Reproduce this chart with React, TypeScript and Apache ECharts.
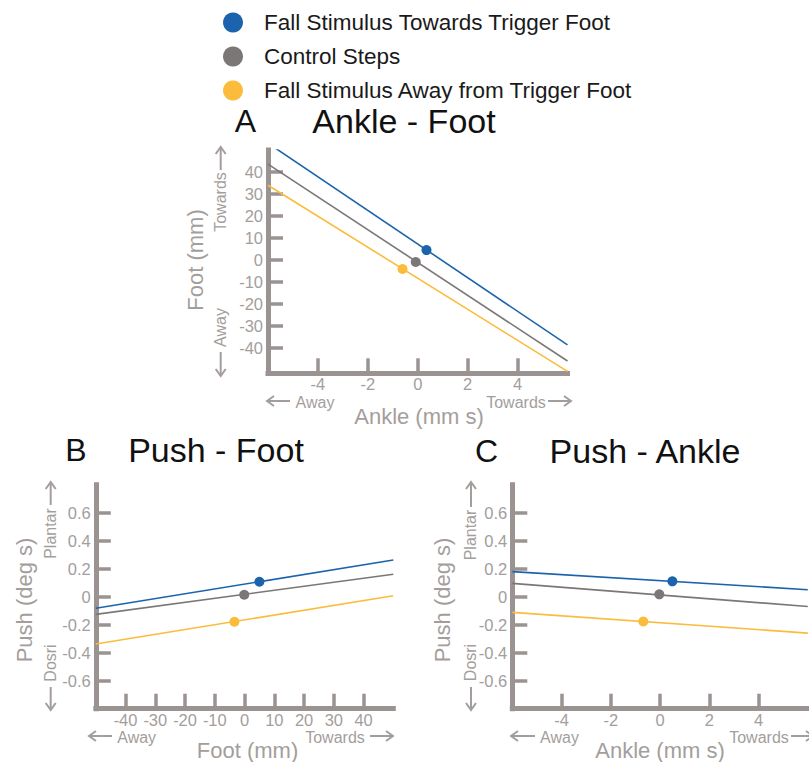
import React, { useEffect, useRef } from "react";
import * as echarts from "echarts";

// ---------- data ----------
const groupNames = [
  "Fall Stimulus Towards Trigger Foot",
  "Control Steps",
  "Fall Stimulus Away from Trigger Foot",
];
const groupColors = ["#1b64ad", "#7b7776", "#fbbc3c"];

// Panel A: Ankle - Foot (x: ankle mm s, y: foot mm)
const ankleFootAnkleRange = [-6, 6];
const ankleFootFootRange = [-51.5, 50];
const ankleFootLineFootAtMin = [53.1, 43.6, 34.0];
const ankleFootLineFootAtMax = [-38.6, -45.9, -50.6];
const ankleFootMeanAnkle = [0.35, -0.08, -0.61];
const ankleFootMeanFoot = [4.5, -0.9, -4.1];
const ankleTickValues = [-4, -2, 0, 2, 4];
const footTickValuesA = [-40, -30, -20, -10, 0, 10, 20, 30, 40];

// Panel B: Push - Foot (x: foot mm, y: push deg s)
const pushFootFootRange = [-50, 50];
const pushFootPushRange = [-0.8, 0.8];
const pushFootLinePushAtMin = [-0.083, -0.126, -0.338];
const pushFootLinePushAtMax = [0.262, 0.16, 0.007];
const pushFootMeanFoot = [5.0, -0.1, -3.4];
const pushFootMeanPush = [0.107, 0.014, -0.179];
const footTickValuesB = [-40, -30, -20, -10, 0, 10, 20, 30, 40];
const pushTickValues = [-0.6, -0.4, -0.2, 0, 0.2, 0.4, 0.6];

// Panel C: Push - Ankle (x: ankle mm s, y: push deg s)
const pushAnkleAnkleRange = [-6, 6];
const pushAnklePushRange = [-0.8, 0.8];
const pushAnkleLinePushAtMin = [0.179, 0.095, -0.112];
const pushAnkleLinePushAtMax = [0.05, -0.07, -0.26];
const pushAnkleMeanAnkle = [0.5, -0.03, -0.68];
const pushAnkleMeanPush = [0.11, 0.017, -0.177];

// ---------- style ----------
const FONT = "'Liberation Sans', Arial, Helvetica, sans-serif";
const AXIS_COLOR = "#9a9391";
const LABEL_COLOR = "#a39e9c";
const TITLE_COLOR = "#111111";

function makeAxis(gridIndex: number, range: number[], ticks: number[], isX: boolean, margin = 5) {
  return {
    gridIndex,
    type: "value",
    min: range[0],
    max: range[1],
    axisLine: {
      show: true,
      onZero: false,
      lineStyle: { color: AXIS_COLOR, width: 5, cap: "square" },
    },
    axisTick: {
      show: true,
      inside: true,
      length: 15,
      customValues: ticks,
      lineStyle: { color: AXIS_COLOR, width: 3.5 },
    },
    axisLabel: {
      customValues: ticks,
      color: LABEL_COLOR,
      fontSize: 16.5,
      fontFamily: FONT,
      lineHeight: 16,
      margin,
    },
    splitLine: { show: false },
  };
}

function arrow(x1: number, y1: number, x2: number, y2: number) {
  const dx = x2 - x1;
  const dy = y2 - y1;
  const len = Math.hypot(dx, dy);
  const ux = dx / len;
  const uy = dy / len;
  const hl = 7;
  const hw = 5;
  const bx = x2 - ux * hl;
  const by = y2 - uy * hl;
  const px = -uy;
  const py = ux;
  return [
    {
      type: "line",
      shape: { x1, y1, x2: x2 - ux * 1, y2: y2 - uy * 1 },
      style: { stroke: LABEL_COLOR, lineWidth: 2 },
    },
    {
      type: "polyline",
      shape: {
        points: [
          [bx + px * hw, by + py * hw],
          [x2, y2],
          [bx - px * hw, by - py * hw],
        ],
      },
      style: { stroke: LABEL_COLOR, lineWidth: 2, fill: "none" },
    },
  ];
}

function text(x: number, y: number, t: string, size: number, color: string, rotate = false) {
  return {
    type: "text",
    x,
    y,
    rotation: rotate ? Math.PI / 2 : 0,
    style: {
      text: t,
      fill: color,
      font: `${size}px ${FONT}`,
      align: "center",
      verticalAlign: "middle",
      lineHeight: Math.round(size * 0.95),
    },
  };
}

function panelSeries(
  gridIdx: number,
  xRange: number[],
  yAtMin: number[],
  yAtMax: number[],
  meanX: number[],
  meanY: number[]
) {
  const out: any[] = [];
  groupNames.forEach((name, i) => {
    out.push({
      type: "line",
      name,
      xAxisIndex: gridIdx,
      yAxisIndex: gridIdx,
      data: [
        [xRange[0], yAtMin[i]],
        [xRange[1], yAtMax[i]],
      ],
      showSymbol: false,
      symbol: "none",
      clip: true,
      lineStyle: { color: groupColors[i], width: 1.6 },
      itemStyle: { color: groupColors[i] },
      z: 2,
      silent: true,
    });
  });
  groupNames.forEach((name, i) => {
    out.push({
      type: "scatter",
      name,
      xAxisIndex: gridIdx,
      yAxisIndex: gridIdx,
      data: [[meanX[i], meanY[i]]],
      symbol: "circle",
      symbolSize: 10,
      itemStyle: { color: groupColors[i], opacity: 1 },
      z: 3,
      silent: true,
    });
  });
  return out;
}

export default function App() {
  const ref = useRef<HTMLDivElement>(null);

  useEffect(() => {
    if (!ref.current) return;
    const chart = echarts.init(ref.current, null, { renderer: "svg" });

    const graphics: any[] = [
      // Panel A titles
      text(245.5, 121, "A", 32, TITLE_COLOR),
      text(404, 121, "Ankle - Foot", 34, TITLE_COLOR),
      // Panel A y side
      text(195, 260, "Foot (mm)", 22, LABEL_COLOR, true),
      text(220.7, 202, "Towards", 16, LABEL_COLOR, true),
      ...arrow(220.7, 170, 220.7, 147),
      text(220.7, 327.5, "Away", 16, LABEL_COLOR, true),
      ...arrow(220.7, 352, 220.7, 376),
      // Panel A x side
      ...arrow(290, 401, 267, 401),
      text(315, 402, "Away", 16, LABEL_COLOR),
      text(516, 402, "Towards", 16, LABEL_COLOR),
      ...arrow(548, 401, 571, 401),
      text(419, 416.5, "Ankle (mm s)", 22, LABEL_COLOR),

      // Panel B titles
      text(76, 450, "B", 32, TITLE_COLOR),
      text(216, 450, "Push - Foot", 34, TITLE_COLOR),
      text(24, 600, "Push (deg s)", 22, LABEL_COLOR, true),
      text(50.7, 533.5, "Plantar", 16, LABEL_COLOR, true),
      ...arrow(50.7, 505, 50.7, 482),
      text(50.7, 663, "Dosri", 16, LABEL_COLOR, true),
      ...arrow(50.7, 687, 50.7, 710),
      ...arrow(112, 736, 89, 736),
      text(136.7, 737, "Away", 16, LABEL_COLOR),
      text(335, 737, "Towards", 16, LABEL_COLOR),
      ...arrow(370, 736, 393, 736),
      text(247.5, 750, "Foot (mm)", 22, LABEL_COLOR),

      // Panel C titles
      text(486.5, 451, "C", 32, TITLE_COLOR),
      text(645, 451, "Push - Ankle", 34, TITLE_COLOR),
      text(442.5, 600, "Push (deg s)", 22, LABEL_COLOR, true),
      text(470, 535, "Plantar", 16, LABEL_COLOR, true),
      ...arrow(471, 507, 471, 482),
      text(470, 662.5, "Dosri", 16, LABEL_COLOR, true),
      ...arrow(471, 687, 471, 710),
      ...arrow(535, 736, 511, 736),
      text(559.5, 737, "Away", 16, LABEL_COLOR),
      text(759, 737, "Towards", 16, LABEL_COLOR),
      ...arrow(791, 736, 813, 736),
      text(660, 750, "Ankle (mm s)", 22, LABEL_COLOR),
    ];

    chart.setOption({
      animation: false,
      backgroundColor: "#ffffff",
      textStyle: { fontFamily: FONT },
      legend: {
        orient: "vertical",
        left: 218,
        top: 6,
        itemWidth: 52,
        itemHeight: 20,
        itemGap: 11,
        icon: "circle",
        selectedMode: false,
        textStyle: { fontSize: 22.5, color: "#1a1a1a", fontFamily: FONT, lineHeight: 20 },
        data: groupNames.map((n, i) => ({ name: n, itemStyle: { color: groupColors[i] } })),
      },
      grid: [
        { left: 268, top: 150, width: 299.5, height: 223.3 },
        { left: 95.8, top: 484.7, width: 297.5, height: 224 },
        { left: 512.3, top: 484.7, width: 295.5, height: 224 },
      ],
      xAxis: [
        makeAxis(0, ankleFootAnkleRange, ankleTickValues, true, 3),
        makeAxis(1, pushFootFootRange, footTickValuesB, true, 3),
        makeAxis(2, pushAnkleAnkleRange, ankleTickValues, true, 3),
      ],
      yAxis: [
        makeAxis(0, ankleFootFootRange, footTickValuesA, false, 5),
        makeAxis(1, pushFootPushRange, pushTickValues, false, 5),
        makeAxis(2, pushAnklePushRange, pushTickValues, false, 5),
      ],
      series: [
        ...panelSeries(0, ankleFootAnkleRange, ankleFootLineFootAtMin, ankleFootLineFootAtMax, ankleFootMeanAnkle, ankleFootMeanFoot),
        ...panelSeries(1, pushFootFootRange, pushFootLinePushAtMin, pushFootLinePushAtMax, pushFootMeanFoot, pushFootMeanPush),
        ...panelSeries(2, pushAnkleAnkleRange, pushAnkleLinePushAtMin, pushAnkleLinePushAtMax, pushAnkleMeanAnkle, pushAnkleMeanPush),
      ],
      graphic: graphics,
    });

    return () => chart.dispose();
  }, []);

  return (
    <div
      ref={ref}
      style={{ position: "fixed", left: 0, top: 0, width: 809, height: 762, background: "#fff" }}
    />
  );
}
